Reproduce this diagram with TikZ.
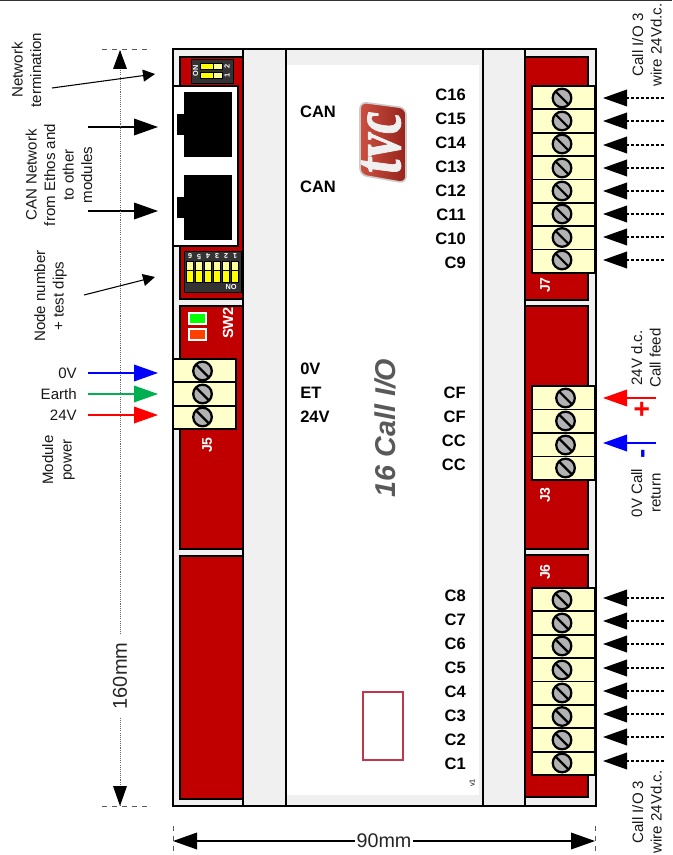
\documentclass[tikz,border=0pt]{standalone}
\usepackage{fontspec}
\setmainfont{Liberation Sans}
\newfontfamily\logofont[BoldFeatures={FakeBold=1.6}]{Liberation Serif}
\usetikzlibrary{arrows.meta,shadings}
\definecolor{panelred}{HTML}{C00000}
\definecolor{railgrey}{HTML}{F0F0F0}
\definecolor{termyellow}{HTML}{FFFFCC}
\definecolor{screwgrey}{HTML}{B2B2B2}
\definecolor{dipdark}{HTML}{333333}
\definecolor{dipyellow}{HTML}{FFFF00}
\definecolor{dippale}{HTML}{FFFF99}
\definecolor{gnd}{HTML}{00B050}
\definecolor{logoa}{HTML}{CC5040}
\definecolor{logob}{HTML}{96231B}
\definecolor{markrect}{HTML}{C0364A}
\tikzset{
  panel/.style={draw=black,line width=1.4pt,fill=panelred},
  railbar/.style={draw=black,line width=1.4pt,fill=railgrey},
  termrow/.style={draw=black,line width=1.4pt,fill=termyellow},
  note/.style={font=\fontsize{11.3}{13.9}\selectfont,align=center,text=black!90,inner sep=0pt},
  notev/.style={note,rotate=90},
  bold lab/.style={font=\fontsize{12.4}{14}\selectfont\bfseries,inner sep=0pt},
  clab/.style={bold lab,anchor=east},
  lleft/.style={bold lab,anchor=west},
  jlab/.style={font=\fontsize{10.5}{12}\selectfont\bfseries,text=white,rotate=90,inner sep=0pt},
  bigtip/.style={-{Triangle[length=18pt,width=12.5pt]}},
  thinarrow/.style={-{Triangle[length=9pt,width=9pt]},line width=.8pt},
  feedline/.style={bigtip,line width=1pt},
  wirein/.style={-{Triangle[length=18pt,width=12.5pt]},line width=1.1pt,dash pattern=on 2pt off 1.8pt},
  dimline/.style={draw=black!60,line width=.7pt,dash pattern=on .8pt off .8pt},
  dimtick/.style={draw=black!65,line width=.6pt,dash pattern=on 4pt off 3.5pt},
}
\newcommand{\tscrew}[2]{%
  \fill[screwgrey] (#1,#2) circle[radius=9.3];
  \draw[line width=1.7pt] (#1,#2) circle[radius=9.3];
  \draw[line width=1.6pt] (#1-6.6,#2-6.6) -- (#1+6.6,#2+6.6);
}
\newcommand{\termstrip}[5]{% x0 x1 ytop rowh count
  \foreach \i in {1,...,#5}{
    \draw[termrow] (#1,{#3+(\i-1)*#4}) rectangle (#2,{#3+\i*#4});
  }
}
\begin{document}
\begin{tikzpicture}[x=0.75pt,y=-0.75pt]
\useasboundingbox (0,0) rectangle (672,855);
\fill[white] (0,0) rectangle (672,855);
\coordinate (tl) at (0,0.6); \coordinate (tr) at (672,0.6);
\draw[line width=1pt,black!80] (tl) -- (tr);

% body
\draw[fill=railgrey,line width=1.4pt] (173,49) rectangle (596,806);
\fill[white] (287,65) rectangle (479,795);
% red panels left
\draw[panel] (180,57) rectangle (243,299);
\draw[panel] (180,306) rectangle (243,549);
\draw[panel] (180,556) rectangle (243,799);
% red panels right
\draw[panel] (525,57) rectangle (588,300);
\draw[panel] (525,306) rectangle (588,549);
\draw[panel] (525,555) rectangle (588,797);
% rails
\draw[railbar] (243,49) rectangle (286,806);
\draw[railbar] (483,49) rectangle (525,806);

% top dip switch
\fill[dipdark] (191,59) rectangle (233,83);
\draw[black,line width=.6pt] (191,59) rectangle (233,83);
\foreach \y in {64,73}{
  \fill[black] (200,\y-1) rectangle (223,\y+6);
  \fill[dipyellow] (201,\y) rectangle (213,\y+5);
  \fill[dippale] (214,\y) rectangle (222,\y+5);
}
\node[font=\fontsize{5.5}{6}\selectfont\bfseries,text=white,rotate=90,inner sep=0pt] (onA) at (195.5,71) {ON};
\node[font=\fontsize{5.5}{6}\selectfont\bfseries,text=white,rotate=90,inner sep=0pt] (swA) at (227,66) {2};
\node[font=\fontsize{5.5}{6}\selectfont\bfseries,text=white,rotate=90,inner sep=0pt] (swB) at (227,75.5) {1};

% CAN jacks
\draw[fill=white,line width=1.4pt] (173,86) rectangle (238,246);
\fill[black] (184,92) rectangle (232,157);
\fill[black] (177,114) rectangle (184,135);
\fill[black] (184,175) rectangle (232,240);
\fill[black] (177,197) rectangle (184,218);

% node dip switch
\fill[dipdark] (184,251) rectangle (241,292);
\draw[black,line width=.6pt] (184,251) rectangle (241,292);
\foreach \x/\t in {190/6,199/5,208/4,217/3,226/2,235/1}{
  \fill[black] (\x-4,261) rectangle (\x+4,283);
  \fill[dippale] (\x-3,262) rectangle (\x+3,270);
  \fill[dipyellow] (\x-3,271) rectangle (\x+3,282);
  \node[font=\fontsize{5.5}{6}\selectfont\bfseries,text=white,rotate=180,inner sep=0pt] at (\x,256.5) {\t};
}
\node[font=\fontsize{5.5}{6}\selectfont\bfseries,text=white,rotate=180,inner sep=0pt] (onB) at (231,287) {ON};

% LEDs
\draw[draw=white,line width=1pt,fill=green] (189,313) rectangle (206,324);
\draw[draw=white,line width=1pt,fill=orange!50!red] (189,329) rectangle (206,340);
\node[jlab,font=\fontsize{11}{12}\selectfont\bfseries] (sw2) at (228,323) {SW2};

% terminals
\termstrip{173}{236}{359}{23.33}{3}
\foreach \y in {371,394,417}{\tscrew{202.5}{\y}}
\termstrip{532}{595}{86}{23.36}{8}
\foreach \y in {98,121,144,168,191,214,237.5,260}{\tscrew{562}{\y}}
\termstrip{532}{595}{386}{23.5}{4}
\foreach \y in {398,421,445,468}{\tscrew{565.5}{\y}}
\termstrip{532}{595}{588}{23.38}{8}
\foreach \y in {600,623,646,670,693,716.5,740,763}{\tscrew{562}{\y}}

\node[jlab] (j5) at (207,445) {J5};
\node[jlab] (j7) at (545,285) {J7};
\node[jlab] (j3) at (545,495) {J3};
\node[jlab] (j6) at (545,572) {J6};

% logo
\path[left color=logoa,right color=logob,draw=black!20,line width=1.2pt,rounded corners=5pt]
  (360,102) -- (406,108) -- (406,183) -- (360,175) -- cycle;
\begin{scope}[shift={(381,143)}]
\begin{scope}[cm={0,0.9,-1.3,0.17,(0,0)},transform shape]
\node[font=\fontsize{40}{40}\selectfont\logofont\bfseries,text=black!6,inner sep=0pt] (logo) at (0,0) {tvc};
\end{scope}
\end{scope}

% board labels
\node[bold lab] (can1) at (318,111.5) {CAN};
\node[bold lab] (can2) at (318,186.5) {CAN};
\foreach \y/\t in {95/C16,119/C15,143/C14,167/C13,191/C12,215/C11,239/C10,263/C9,
                   393/CF,417/CF,441/CC,465/CC,
                   596/C8,620/C7,644/C6,668/C5,692/C4,716/C3,740/C2,764/C1}{
  \node[clab] at (466,\y) {\t};
}
\node[lleft] (l0v) at (300,369) {0V};
\node[lleft] (let) at (300,393) {ET};
\node[lleft] (l24) at (300,417) {24V};
\node[rotate=90,font=\fontsize{21.5}{24}\selectfont\bfseries\itshape,text=black!65,inner sep=0pt] (title) at (385,428) {16 Call I/O};
\draw[draw=markrect,line width=1.4pt] (363,692) rectangle (403,760);
\node[rotate=90,font=\fontsize{5.5}{6}\selectfont,inner sep=0pt] (ver) at (472,783) {v1};

% left notes
\node[notev] (nt) at (26.5,70) {Network\\termination};
\node[notev] (cn) at (59,175) {CAN Network\\from Ethos and\\to other\\modules};
\node[notev] (nn) at (50.5,296) {Node number\\+ test dips};
\node[notev] (mp) at (58.5,460) {Module\\power};
\node[note,anchor=east] (t0) at (77,373) {0V};
\node[note,anchor=east] (te) at (77,394) {Earth};
\node[note,anchor=east] (t24) at (77,415) {24V};

% left arrows
\coordinate (a1) at (52,88);  \coordinate (b1) at (155,74);
\coordinate (a2) at (84,295); \coordinate (b2) at (155,277);
\draw[thinarrow] (a1) -- (b1);
\draw[thinarrow] (a2) -- (b2);
\coordinate (a3) at (88,127); \coordinate (b3) at (158,127);
\coordinate (a4) at (88,211); \coordinate (b4) at (158,211);
\draw[bigtip,line width=1pt] (a3) -- (b3);
\draw[bigtip,line width=1pt] (a4) -- (b4);
\coordinate (a5) at (88,373); \coordinate (b5) at (158,373);
\coordinate (a6) at (88,394); \coordinate (b6) at (158,394);
\coordinate (a7) at (88,415); \coordinate (b7) at (158,415);
% dimension line runs under the arrows
\coordinate (vt) at (120,50); \coordinate (vb) at (120,806);
\node[rotate=90,font=\fontsize{15}{16}\selectfont,text=black!85,fill=white,inner ysep=1pt,inner xsep=6pt] (h160) at (120,676) {160mm};
\draw[dimline] (h160.east) -- (vt);
\draw[dimline] (h160.west) -- (vb);
\draw[feedline,blue] (a5) -- (b5);
\draw[feedline,gnd] (a6) -- (b6);
\draw[feedline,red] (a7) -- (b7);

% right notes
\node[notev] (n1) at (647,45) {Call I/O 3\\wire 24Vd.c.};
\node[notev] (n2) at (647,812) {Call I/O 3\\wire 24Vd.c.};
\node[notev] (n3) at (646,358) {24V d.c.\\Call feed};
\node[notev] (n4) at (646,493) {0V Call\\return};

% right arrows
\foreach \n/\y in {p1/98,p2/121,p3/145,p4/168,p5/191,p6/214,p7/237,p8/260,
                   q1/598,q2/621,q3/644,q4/668,q5/691,q6/714,q7/737,q8/761}{
  \coordinate (\n s) at (664,\y);
  \coordinate (\n e) at (603,\y);
  \draw[wirein] (\n s) -- (\n e);
}
\coordinate (rs) at (656,398); \coordinate (re) at (603,398);
\coordinate (bs) at (656,443); \coordinate (be) at (603,443);
\draw[feedline,red] (rs) -- (re);
\draw[feedline,blue] (bs) -- (be);
\node[rotate=90,font=\fontsize{21}{22}\selectfont\bfseries,text=red,inner sep=0pt] (plus) at (643,409) {+};
\node[rotate=90,font=\fontsize{21}{22}\selectfont\bfseries,text=blue,inner sep=0pt] (minus) at (646,453.5) {-};

% dimensions
\fill[black] (vt) -- (113,69) -- (127,69) -- cycle;
\fill[black] (vb) -- (113,786) -- (127,786) -- cycle;
\coordinate (d1) at (102,49.5); \coordinate (d2) at (150,49.5);
\coordinate (d3) at (102,806.5); \coordinate (d4) at (150,806.5);
\draw[dimtick] (d1) -- (d2);
\draw[dimtick] (d3) -- (d4);

\node[font=\fontsize{14.8}{16}\selectfont,text=black!85,inner xsep=1pt,inner ysep=0pt] (w90) at (384,841) {90mm};
\coordinate (hl) at (173,841); \coordinate (hr) at (595,841);
\draw[bigtip,line width=1pt] (w90.west) -- (hl);
\draw[bigtip,line width=1pt] (w90.east) -- (hr);
\coordinate (d5) at (173,826); \coordinate (d6) at (173,854);
\coordinate (d7) at (595,826); \coordinate (d8) at (595,854);
\draw[dimtick] (d5) -- (d6);
\draw[dimtick] (d7) -- (d8);
\end{tikzpicture}
\end{document}
